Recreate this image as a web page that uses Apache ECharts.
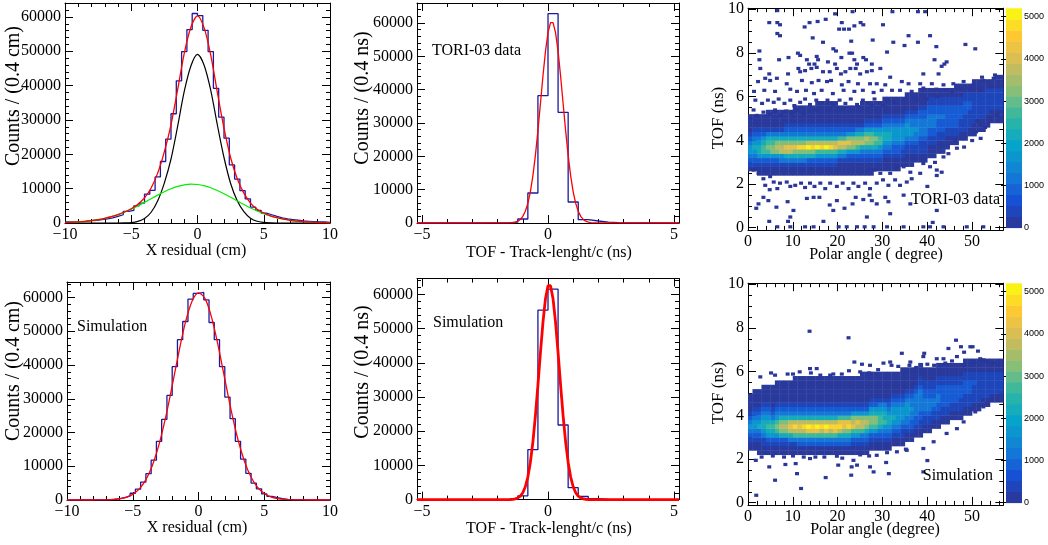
<!DOCTYPE html>
<html>
<head>
<meta charset="utf-8">
<title>TORI-03 residuals and TOF</title>
<script src="https://cdn.jsdelivr.net/npm/echarts@6.0.0/dist/echarts.min.js"></script>
<style>
  html, body { margin: 0; padding: 0; background: #fff; }
  #main { width: 1048px; height: 545px; }
</style>
</head>
<body>
<div id="main"></div>
<script>
// ---------- 1D histograms (counts per bin, bins start at binStart) ----------
const xresBinStart = -10, xresBinWidth = 0.4;
const tofBinStart = -5.2, tofBinWidth = 0.4;

const xresDataCounts = [300, 300, 400, 500, 700, 800, 1000, 1200, 1500, 1900, 2400, 3400, 3700, 5000, 5800, 8400, 9500, 13400, 17900, 24400, 31800, 41400, 49900, 56300, 61000,
  60400, 56100, 49900, 39200, 30800, 24700, 16900, 12800, 9400, 7000, 4600, 3700, 2900, 2400, 1900, 1500, 1200, 1000, 800, 600, 500, 400, 300, 300, 200];
const xresSimCounts = [0, 0, 0, 0, 10, 20, 50, 100, 200, 400, 700, 1200, 2000, 3200, 5300, 7800, 11800, 17400, 23900, 31000, 39500, 47500, 52900, 59500, 61200,
  61500, 59300, 52600, 47500, 39500, 30500, 24100, 17400, 12100, 7900, 5000, 3300, 1800, 1100, 700, 400, 200, 100, 50, 20, 10, 0, 0, 0, 0];
const tofDataCounts = [0, 0, 0, 0, 0, 0, 20, 30, 60, 250, 1200, 9000, 38200, 62800, 33200, 6300, 1000, 600, 250, 120, 60, 40, 30, 20, 10, 10];
const tofSimCounts = [0, 0, 0, 0, 0, 0, 0, 0, 0, 100, 1100, 14600, 55400, 61500, 21800, 3500, 900, 300, 60, 0, 0, 0, 0, 0, 0, 0];

// ---------- fitted curves, read at sample points ----------
const xresFitX = [-10, -9.5, -9, -8.5, -8, -7.5, -7, -6.5, -6, -5.5, -5, -4.5, -4, -3.5, -3, -2.5, -2, -1.5, -1, -0.5, 0,
  0.5, 1, 1.5, 2, 2.5, 3, 3.5, 4, 4.5, 5, 5.5, 6, 6.5, 7, 7.5, 8, 8.5, 9, 9.5, 10];
const xresDataTotal = [125, 200, 306, 460, 670, 965, 1350, 1840, 2440, 3200, 4150, 5450, 7300, 10200, 14600, 20800, 28600, 38800, 49400, 57000, 60300,
  56800, 48900, 38000, 27600, 19000, 12900, 8700, 5800, 4000, 2900, 2100, 1530, 1105, 780, 537, 360, 236, 151, 94, 58];
const xresDataCore = [0, 0, 0, 0, 0, 0, 0, 0, 0, 30, 130, 480, 1300, 3130, 6480, 11690, 18630, 28150, 38300, 45710, 49090,
  45940, 38630, 28530, 19070, 11510, 6470, 3320, 1410, 500, 180, 35, 0, 0, 0, 0, 0, 0, 0, 0, 0];
const xresDataTail = [125, 200, 306, 460, 670, 965, 1350, 1840, 2440, 3170, 4020, 4970, 6000, 7070, 8120, 9110, 9970, 10650, 11100, 11290, 11210,
  10860, 10270, 9470, 8530, 7490, 6430, 5380, 4390, 3500, 2720, 2065, 1530, 1105, 780, 537, 360, 236, 151, 94, 58];
const xresSimFit = [0, 0, 0, 0, 5, 19, 55, 142, 347, 788, 1665, 3280, 6040, 10320, 16470, 24470, 33900, 43700, 52550, 58830, 61390,
  59670, 54050, 45600, 35860, 26280, 17930, 11420, 6760, 3730, 1920, 920, 412, 172, 66, 24, 8, 0, 0, 0, 0];

const tofDataFitX = [-5.2, -1.6, -1.5, -1.4, -1.3, -1.2, -1.1, -1.0, -0.9, -0.8, -0.7, -0.6, -0.5, -0.4, -0.3, -0.2, -0.1, 0, 0.1, 0.15,
  0.2, 0.3, 0.4, 0.5, 0.6, 0.7, 0.8, 0.9, 1.0, 1.1, 1.2, 1.3, 1.4, 1.5, 1.6, 1.7, 1.8, 1.9, 5.2];
const tofDataFit = [0, 22, 53, 121, 265, 545, 1065, 1985, 3510, 5880, 9350, 14150, 20300, 27700, 35850, 44100, 51500, 57100, 60100, 60500,
  60100, 57100, 51500, 44100, 35850, 27700, 20300, 14150, 9350, 5880, 3510, 1985, 1065, 545, 265, 121, 53, 22, 0];
const tofSimFitX = [-5.2, -1.6, -1.5, -1.4, -1.3, -1.2, -1.1, -1.0, -0.9, -0.8, -0.7, -0.6, -0.5, -0.4, -0.3, -0.2, -0.1, 0, 0.05,
  0.1, 0.2, 0.3, 0.4, 0.5, 0.6, 0.7, 0.8, 0.9, 1.0, 1.1, 1.2, 1.3, 1.4, 1.5, 1.6, 1.7, 5.2];
const tofSimFit = [0, 12, 35, 88, 212, 477, 1010, 2010, 3755, 6590, 10860, 16820, 24480, 33450, 42970, 51820, 58720, 62510, 63000,
  62510, 58720, 51820, 42970, 33450, 24480, 16820, 10860, 6590, 3755, 2010, 1010, 477, 212, 88, 35, 12, 0];

// ---------- 2D TOF vs polar angle ----------
// one string per 1-degree column; each char is a 0.2 ns cell starting at 2.0 ns
const bandY0 = 2.0, bandDy = 0.2, bandDx = 1;
const levelCounts = { '1': 100, '2': 400, '3': 800, '4': 1200, '5': 1700, '6': 2200, '7': 2700, '8': 3200, '9': 3700, 'A': 4200, 'B': 4700, 'C': 5100 };
const tofAngleDataCols = [
  "...1234554321111", "...1234565432111", "..11235665432111", "..11235776532111", "..112357876421111",
  "..112358876421111", "..112358986421111", "..112459986421111", "..112469A86432111", "..112469A86432111",
  "..112468A864321111", "..112468B864321111", "..112468B864321111", "..112368C964321111", "..112368B964321111",
  "..112357C9643211111", "..112357B9643211111", "..112357C9643211111", "..112357B9643211111", "..112357A9643211111",
  "..1112469A74321111", "..1112469A74321111", "..1112358A85321111", "..1112358985321111", "..1112357986421111",
  "..11123469864211111", "..11123468975321111", "..11123468875321111", "...1123467865321111", "...1123457765321111",
  "...11123456654321111", "...11123456654321111", "...11123345554321111", "...11123345554321111", "....1122345554321111",
  "....11122345554321111", "....11122345544321111", ".....1122344544321111", ".....11222344443321111", ".....11222344443321111",
  "......1112233444332211", "......1112233444332211", ".......111223334332211", ".......111223334332211", "........11122333332211",
  ".........1122333332211", ".........11223333322111", "..........1122233322111", "..........1122223332211", "...........112222332211",
  "...........1112222222111", "............111222222111", "............111222222111", ".............11122222211", "..............1112222211",
  "..............11122222111", "..............11122222111"
];
const tofAngleSimCols = [
  "..1123454321111", "..11234554321111", ".111234654321111", ".1122456654321111", ".1123567654321111",
  ".1123567643211111", ".11235787543211111", ".11236898643211111", ".11236898643211111", ".112469A9643211111",
  ".112479B96432111111", ".113479A96432111111", ".113479B96432111111", ".11347AC96432111111", ".11347AB96432111111",
  ".11347AC96432111111", ".113479B96432111111", ".11347AC96432111111", ".113479B96432111111", ".11347AB96432111111",
  ".113469BA7432111111", ".113468AA7432111111", ".113468BA7432111111", ".112357A98532111111", ".1123579A8532111111",
  ".1123479985321111111", ".1123468985321111111", "..112357886532111111", "..112357886532111111", "..112346776542111111",
  "..112345766542111111", "..112345665432111111", "...11234565543211111", "...11234555543211111", "...112234555432111111",
  "....11234455543211111", "....11233445443211111", ".....1123344444321111", ".....11223344444322111", "......112234443322111",
  "......112234443322111", ".......11223443322111", ".......112233443322111", "........11223333322111", "........11223333322111",
  ".........1122333322111", ".........1122333322111", ".........1122233322111", "..........1122233322111", "..........1122233322111",
  "...........112222322111", "...........112222222111", "............11222222111", "............11222222111", ".............1122222111",
  ".............1122222111", ".............1122222111"
];
// isolated single-entry bins [angle, TOF]
const tofAngleDataSparse = [
  [6.5, 9.95], [19.4, 9.8], [23.3, 9.9], [32.2, 9.9], [37.9, 9.9], [39.5, 9.9],
  [4.7, 9.4], [6.5, 9.4], [7.1, 9.3], [12.6, 9.2], [13.7, 9.4], [15.5, 9.45], [17.3, 9.55], [20.3, 9.1], [21.4, 9.1], [22.5, 9.1], [20.9, 9.4], [23.7, 9.25], [25.1, 9.4], [25.7, 9.3], [30.1, 9.3],
  [6.5, 8.9], [7.1, 8.8], [14.4, 8.7], [16.7, 8.5], [23, 8.55], [27.8, 8.6], [35.8, 8.8], [40.6, 8.8], [32.4, 8.5], [34.9, 8.35], [37.9, 8.5], [42, 8.3], [48.5, 8.4], [50.7, 8.2],
  [2.5, 8.1], [11.1, 8.0], [11.6, 7.9], [19, 8.2], [19.6, 8.1], [22.6, 8.0], [23.2, 8.0], [31, 8.05],
  [2.5, 7.7], [6.9, 7.7], [9, 7.8], [13.1, 7.7], [13.6, 7.5], [15.3, 7.85], [14.8, 7.5], [15.6, 7.7], [17.8, 7.6], [19.4, 7.5], [20.8, 7.8], [23.7, 7.7], [24.3, 7.5], [25.7, 7.8], [26.3, 7.7], [27.6, 7.5], [41.6, 7.7], [43.2, 7.4], [44.3, 7.6], [43.8, 7.5],
  [2.7, 7.3], [4.7, 7.05], [4.9, 6.75], [6.4, 6.85], [8.9, 7.05], [11.2, 7.3], [11.6, 7.15], [12.7, 7.2], [14.1, 7.3], [15.3, 7.35], [16.7, 7.15], [18.2, 7.15], [19.8, 7.3], [20.7, 7.05], [21.7, 7.15], [22.8, 7.3], [24, 7.3], [25, 7.05], [26.5, 7.15], [27.6, 7.2], [29.5, 7.3], [31.7, 6.9], [34.3, 6.7], [39.1, 7.05], [42.5, 7.05], [52.2, 6.9], [55.1, 7.0], [54.8, 6.85],
  [2.2, 6.7], [3.8, 6.85], [8.6, 6.6], [12, 6.75], [14.2, 6.65], [15.7, 6.75], [17.6, 6.7], [18.5, 6.75], [20.9, 6.55], [22.4, 6.7], [24.5, 6.6], [27.2, 6.6], [28.7, 6.6], [30.6, 6.55], [35.8, 6.6], [38.4, 6.6], [41, 6.6], [43.6, 6.55], [45.8, 6.6], [48.1, 6.7], [50.3, 6.55],
  [1.3, 6.25], [3.6, 6.3], [6, 6.25], [9.4, 6.35], [10.9, 6.25], [12.9, 6.3], [14.7, 6.15], [16.4, 6.3], [18.9, 6.15], [21.3, 6.3], [23.7, 6.25], [25.6, 6.3], [28, 6.2], [29.8, 6.3], [32.1, 6.3], [33.9, 6.3], [36.5, 6.25], [39.1, 6.4], [42, 6.35], [44.3, 6.3],
  [1.6, 5.85], [3.1, 5.7], [4.4, 5.85], [5.7, 5.75], [6.8, 5.9], [8.1, 5.7], [9.4, 5.85], [10.3, 5.6], [11.6, 5.75], [12.7, 5.9], [13.8, 5.65], [15.2, 5.85], [16.4, 5.7], [17.7, 5.85], [19, 5.65], [20.4, 5.85], [21.7, 5.7], [22.9, 5.9], [24.3, 5.65], [25.6, 5.85], [26.9, 5.7], [28.2, 5.9], [29.5, 5.7], [31, 5.85], [32.6, 5.75], [34.7, 5.9],
  [1.2, 5.4], [1.9, 5.15], [3.4, 5.3], [4.8, 5.2], [6, 5.4], [7.3, 5.15], [8.5, 5.35], [9.7, 5.25], [11, 5.4], [12.4, 5.25], [15.3, 5.4], [17.9, 5.4], [21.3, 5.45], [24.6, 5.55], [27.6, 5.6], [30.2, 5.6],
  [52.5, 6.75], [53.6, 6.7], [54.4, 6.5], [51.8, 6.3], [49.2, 6.4], [47.3, 6.4], [45.5, 6.25], [42.1, 6.0], [39.9, 5.9], [37.6, 5.85],
  [1.2, 2.65], [2.3, 2.5], [3.4, 2.25], [4.9, 2.35], [5.7, 2.1], [3.8, 1.95], [4.8, 1.75], [7.1, 2.05], [6.5, 1.8], [8.6, 2.1], [9.4, 1.9], [10.5, 1.95], [11.8, 2.05], [12.7, 1.85], [13.8, 2.05], [14.8, 1.9], [16.1, 2.05], [17.2, 1.8], [18.3, 2.05], [19.8, 1.9], [21.1, 2.05], [22.4, 1.8], [23.5, 2.05], [24.6, 1.9], [26.1, 2.05], [27.2, 1.8], [28.7, 2.05], [30.1, 2.2], [31.3, 1.95], [32.8, 2.2], [33.9, 1.95], [35.4, 2.1], [36.5, 2.25], [38.4, 2.5], [40, 1.9],
  [42.1, 2.65], [43.2, 2.55], [42.1, 2.4], [40.6, 2.8], [39.1, 2.95], [41.7, 3.0], [43.6, 3.25], [44.7, 3.4], [46.6, 3.65], [48.2, 3.7], [46.2, 4.0], [50.9, 4.4], [51.9, 4.1], [50, 4.0], [51, 4.9], [52.9, 4.6], [54, 5.0], [55.5, 5.15], [34.7, 2.8], [36.2, 2.55], [31.7, 2.5], [29.5, 2.5], [28.2, 2.65], [33.2, 2.8],
  [3.4, 1.4], [4.5, 1.25], [6.3, 0.95], [8.8, 1.2], [10.1, 0.8], [13.1, 1.35], [14.6, 1.4], [15.9, 1.4], [18.2, 1.05], [19.8, 1.25], [21.5, 0.9], [23.3, 1.1], [24, 1.4], [25.7, 1.3], [27.1, 1.5], [27.6, 1.25], [28.7, 1.1], [30.6, 1.4], [31.3, 1.2], [34.7, 1.5], [36.2, 1.1], [2.3, 1.1], [1.8, 0.9], [4.7, 0.3], [8.9, 0.3], [9.4, 0.5], [16.8, 0.3], [19, 0.8], [26.5, 0.5], [31.7, 0.65], [42.1, 0.8], [41.2, 0.25],
  [6.5, 0.05], [9.4, 0.05], [12.7, 0.05], [14.6, 0.05], [20.2, 0.05], [22, 0.05], [24.3, 0.05], [26, 0.05], [28, 0.05], [31, 0.05], [34.7, 0.05], [39.1, 0.05], [40.6, 0.05], [43.6, 0.05], [48.8, 0.05], [52.5, 0.05]
];
const tofAngleSimSparse = [
  [13.7, 7.86], [22.4, 7.56], [46.4, 7.45], [44.7, 7.07], [47.5, 7.15], [49.6, 7.15], [50.1, 7.15], [51.3, 6.95], [48.2, 6.9], [39.3, 6.85], [34.3, 6.85], [46.6, 6.7], [43.6, 6.6], [42.1, 6.6], [39.1, 6.7], [36.2, 6.45],
  [23.7, 6.45], [25.4, 6.35], [27.2, 6.3], [31.7, 6.45], [13.8, 6.15], [15.3, 6.15], [5.1, 5.95], [2.7, 5.77], [8.8, 5.9], [16.1, 5.85], [18.3, 5.85], [20.9, 5.9], [30.2, 6.4], [52.5, 6.55], [54.8, 6.4], [51.8, 6.6],
  [32, 6.3], [33.5, 6.25], [36, 6.3], [37.5, 6.2], [40, 6.35], [41.5, 6.3], [44, 6.4], [45.5, 6.5], [48, 6.3], [50.5, 6.45], [53, 6.5],
  [6, 5.85], [10, 5.9], [11.5, 6.0], [14, 5.95], [19, 5.9], [22.5, 6.05], [25, 6.0], [27, 5.95], [29, 6.1],
  [1.7, 1.95], [4.7, 1.65], [6, 1.04], [8.3, 1.76], [10.6, 1.8], [10.9, 1.34], [11.8, 0.66], [17.3, 1.16], [20.1, 1.73], [23.1, 1.65], [23.5, 1.95], [23, 1.27], [24.3, 1.73], [27.2, 1.65], [28, 1.42], [31.4, 1.34], [30.8, 1.85],
  [35.2, 2.46], [39.1, 1.42], [40, 1.94], [1.8, 0.35], [12.4, 2.1], [13.8, 2.03], [15, 2.1], [19.8, 2.14], [28.7, 2.18], [33.2, 2.34], [35.4, 2.41], [39.1, 2.49], [41.4, 2.8], [44.3, 3.18], [46.6, 3.4], [48.1, 3.71],
  [50.7, 4.17], [52.5, 4.4], [54.4, 4.7], [53.3, 4.55], [3, 2.1], [5.5, 2.15], [8, 2.1], [10, 2.15], [17, 2.1], [21, 2.05], [25, 2.2], [27, 2.15], [31, 2.3]
];
const sparseCount = 60;
const zMax = 5200;

// ---------- helpers ----------
const SERIF = '"Liberation Serif", "Times New Roman", serif';
const SANS = '"Liberation Sans", Arial, sans-serif';
const HIST_COLOR = '#1a1aa0';
const birdColors = ['#2c3592', '#1650d4', '#1480d6', '#06a4ca', '#2eb7a4', '#87bf77', '#d1bb59', '#fec832', '#f9fb0e'];

function histPoints(counts, start, width) {
  const pts = counts.map((v, i) => [start + i * width, v]);
  pts.push([start + counts.length * width, counts[counts.length - 1]]);
  return pts;
}
function zip(xs, ys) { return xs.map((x, i) => [x, ys[i]]); }
function bandCells(cols) {
  const out = [];
  cols.forEach((s, i) => {
    for (let j = 0; j < s.length; j++) {
      const c = levelCounts[s[j]];
      if (c) out.push([i * bandDx, bandY0 + j * bandDy, c]);
    }
  });
  return out;
}
function fmt(v) { return String(+v.toFixed(6)).replace('-', '\u2212'); }

const grids = [], xAxes = [], yAxes = [];
function panel(rect, xo, yo) {
  const gridIndex = grids.length;
  grids.push(Object.assign({ containLabel: false, show: false }, rect));
  const mk = (o, pos, labels) => ({
    type: 'value', gridIndex, position: pos, min: o.min, max: o.max,
    interval: o.interval, splitNumber: o.splitNumber,
    axisLine: { show: true, onZero: false, lineStyle: { color: '#000', width: 1 } },
    axisTick: { show: true, inside: true, length: 8, lineStyle: { color: '#000', width: 1 } },
    minorTick: { show: true, splitNumber: o.minor, length: 4, lineStyle: { color: '#000', width: 1 } },
    splitLine: { show: false },
    axisLabel: { show: labels, color: '#000', fontFamily: SERIF, fontSize: 16, margin: 4,
      showMinLabel: !o.hideMin, showMaxLabel: !o.hideMax, formatter: fmt }
  });
  const xi = xAxes.length, yi = yAxes.length;
  xAxes.push(mk(xo, 'bottom', true), mk(xo, 'top', false));
  yAxes.push(mk(yo, 'left', true), mk(yo, 'right', false));
  return { xAxisIndex: xi, yAxisIndex: yi };
}
function colorbar(rect) {
  const gridIndex = grids.length;
  grids.push(Object.assign({ show: false }, rect));
  const xi = xAxes.length, yi = yAxes.length;
  xAxes.push({ type: 'value', gridIndex, min: 0, max: 1, show: false });
  yAxes.push({
    type: 'value', gridIndex, position: 'right', min: 0, max: zMax, interval: 1000,
    axisLine: { show: false }, splitLine: { show: false },
    axisTick: { show: true, inside: true, length: 5, lineStyle: { color: '#000' } },
    axisLabel: { color: '#000', fontFamily: SANS, fontSize: 9, margin: 2, showMaxLabel: false, formatter: fmt }
  });
  return { xAxisIndex: xi, yAxisIndex: yi };
}

function cellRender(w, h, centered) {
  return function (params, api) {
    let x = api.value(0), y = api.value(1);
    if (centered) { x -= w / 2; y -= h / 2; }
    const p0 = api.coord([x, y]);
    const p1 = api.coord([x + w, y + h]);
    return {
      type: 'rect',
      shape: { x: p0[0], y: p1[1], width: p1[0] - p0[0] + 0.4, height: p0[1] - p1[1] + 0.4 },
      style: { fill: api.visual('color') }
    };
  };
}
function barRender(params, api) {
  const p0 = api.coord([0, api.value(0)]);
  const p1 = api.coord([1, api.value(1)]);
  return {
    type: 'rect',
    shape: { x: p0[0], y: p1[1], width: p1[0] - p0[0], height: p0[1] - p1[1] + 0.4 },
    style: { fill: api.visual('color') }
  };
}
const barBands = [];
for (let i = 0; i < 20; i++) barBands.push([i * zMax / 20, (i + 1) * zMax / 20, (i + 0.5) * zMax / 20]);

// ---------- panels ----------
const heatX = { min: 0, max: 57, interval: 10, minor: 5, hideMax: true };
const heatY = { min: -0.1, max: 10.05, splitNumber: 5, minor: 4, hideMin: true, hideMax: true };

const p1 = panel({ left: 65, top: 3, width: 265, height: 220 },
  { min: -10, max: 10, interval: 5, minor: 5 }, { min: 0, max: 64050, interval: 10000, minor: 5, hideMax: true });
const p2 = panel({ left: 417, top: 3, width: 262, height: 220 },
  { min: -5.2, max: 5.2, splitNumber: 2, minor: 5, hideMin: true, hideMax: true }, { min: 0, max: 66000, interval: 10000, minor: 5, hideMax: true });
const p3 = panel({ left: 748, top: 8.2, width: 255.3, height: 221.7 }, heatX, heatY);
const c3 = colorbar({ left: 1006, top: 8.3, width: 16, height: 219.4 });
const p4 = panel({ left: 67, top: 282, width: 263, height: 218 },
  { min: -10, max: 10, interval: 5, minor: 5 }, { min: 0, max: 64600, interval: 10000, minor: 5, hideMax: true });
const p5 = panel({ left: 417, top: 278.6, width: 262, height: 221 },
  { min: -5.2, max: 5.2, splitNumber: 2, minor: 5, hideMin: true, hideMax: true }, { min: 0, max: 64600, interval: 10000, minor: 5, hideMax: true });
const p6 = panel({ left: 748, top: 283.2, width: 255.3, height: 221.7 }, heatX, heatY);
const c6 = colorbar({ left: 1006, top: 283.3, width: 16, height: 219.4 });

function histSeries(ax, counts, start, width) {
  return Object.assign({ type: 'line', step: 'end', data: histPoints(counts, start, width), symbol: 'none',
    lineStyle: { color: HIST_COLOR, width: 1.3 }, z: 2, silent: true }, ax);
}
function curveSeries(ax, xs, ys, color, width, smooth) {
  return Object.assign({ type: 'line', data: zip(xs, ys), symbol: 'none', smooth: smooth,
    lineStyle: { color: color, width: width }, z: 3, silent: true }, ax);
}
function heatSeries(ax, data, w, h, centered) {
  return Object.assign({ type: 'custom', data: data, renderItem: cellRender(w, h, centered),
    encode: { x: 0, y: 1 }, silent: true }, ax);
}

const series = [
  histSeries(p1, xresDataCounts, xresBinStart, xresBinWidth),            // 0
  curveSeries(p1, xresFitX, xresDataCore, '#000000', 1.2, 0.3),           // 1
  curveSeries(p1, xresFitX, xresDataTail, '#00ee00', 1.2, 0.3),           // 2
  curveSeries(p1, xresFitX, xresDataTotal, '#ff0000', 1.3, 0.3),          // 3
  histSeries(p2, tofDataCounts, tofBinStart, tofBinWidth),                // 4
  curveSeries(p2, tofDataFitX, tofDataFit, '#ff0000', 1.3, false),        // 5
  heatSeries(p3, bandCells(tofAngleDataCols), bandDx, bandDy, false),     // 6
  heatSeries(p3, tofAngleDataSparse.map(p => [p[0], p[1], sparseCount]), 0.8, 0.13, true), // 7
  Object.assign({ type: 'custom', data: barBands, renderItem: barRender, encode: { y: [0, 1] }, silent: true }, c3), // 8
  histSeries(p4, xresSimCounts, xresBinStart, xresBinWidth),              // 9
  curveSeries(p4, xresFitX, xresSimFit, '#ff0000', 1.3, 0.3),             // 10
  histSeries(p5, tofSimCounts, tofBinStart, tofBinWidth),                 // 11
  curveSeries(p5, tofSimFitX, tofSimFit, '#ff0000', 2.8, false),          // 12
  heatSeries(p6, bandCells(tofAngleSimCols), bandDx, bandDy, false),      // 13
  heatSeries(p6, tofAngleSimSparse.map(p => [p[0], p[1], sparseCount]), 0.8, 0.13, true),  // 14
  Object.assign({ type: 'custom', data: barBands, renderItem: barRender, encode: { y: [0, 1] }, silent: true }, c6) // 15
];

function txt(text, x, y, opts) {
  opts = opts || {};
  const align = opts.align || 'center';
  return {
    type: 'text', x: x, y: y, rotation: opts.rot || 0, z: 100, silent: true,
    style: { text: text, fill: '#000', font: (opts.size || 16) + 'px ' + SERIF,
      align: align, verticalAlign: 'middle', textAlign: align, textVerticalAlign: 'middle' }
  };
}
const V = Math.PI / 2;
const graphic = [
  txt('Counts / (0.4 cm)', 14, 96, { rot: V, size: 20 }),
  txt('X residual (cm)', 196, 251),
  txt('Counts / (0.4 ns)', 363, 98, { rot: V, size: 20 }),
  txt('TOF - Track-lenght/c (ns)', 549, 253),
  txt('TORI-03 data', 432, 51, { align: 'left' }),
  txt('TOF (ns)', 719, 118, { rot: V, size: 17 }),
  txt('Polar angle ( degree)', 876, 255),
  txt('TORI-03 data', 1000, 200, { align: 'right' }),
  txt('Counts / (0.4 cm)', 14, 371, { rot: V, size: 20 }),
  txt('X residual (cm)', 197, 528),
  txt('Simulation', 77, 327, { align: 'left' }),
  txt('Counts / (0.4 ns)', 363, 372, { rot: V, size: 20 }),
  txt('TOF - Track-lenght/c (ns)', 549, 529),
  txt('Simulation', 433, 323, { align: 'left' }),
  txt('TOF (ns)', 719, 393, { rot: V, size: 17 }),
  txt('Polar angle (degree)', 875, 530),
  txt('Simulation', 993, 476, { align: 'right' })
];

const chart = echarts.init(document.getElementById('main'), null, { renderer: 'canvas' });
chart.setOption({
  animation: false,
  backgroundColor: '#fff',
  grid: grids,
  xAxis: xAxes,
  yAxis: yAxes,
  visualMap: {
    type: 'continuous', show: false, min: 0, max: zMax, dimension: 2,
    seriesIndex: [6, 7, 8, 13, 14, 15], inRange: { color: birdColors }
  },
  series: series,
  graphic: graphic
});
</script>
</body>
</html>
